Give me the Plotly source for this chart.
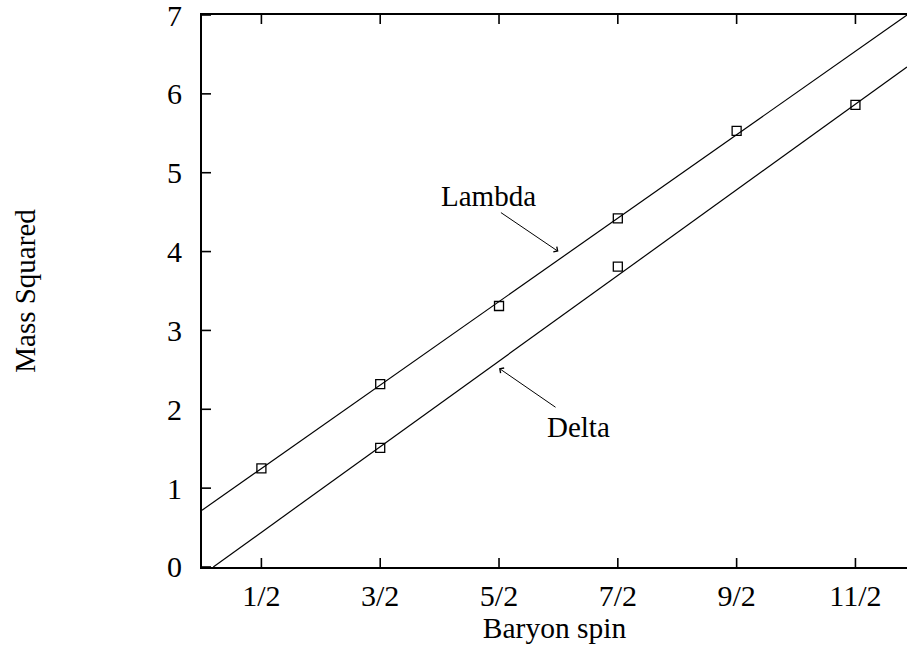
import plotly.graph_objects as go

# Data
spin_ticks = [0.5, 1.5, 2.5, 3.5, 4.5, 5.5]
spin_labels = ["1/2", "3/2", "5/2", "7/2", "9/2", "11/2"]
mass_ticks = [0, 1, 2, 3, 4, 5, 6, 7]

lambda_x = [0.5, 1.5, 2.5, 3.5, 4.5]
lambda_y = [1.25, 2.32, 3.31, 4.42, 5.53]
delta_x = [1.5, 3.5, 5.5]
delta_y = [1.51, 3.81, 5.86]

lambda_fit_x = [0.0, 5.934]
lambda_fit_y = [0.72, 7.0]
delta_fit_x = [0.095, 5.934]
delta_fit_y = [0.0, 6.34]

X_MIN, X_MAX = 0.0, 5.934
Y_MIN, Y_MAX = 0.0, 7.0

FONT = "Liberation Serif"
fig = go.Figure()

fig.add_trace(go.Scatter(x=lambda_fit_x, y=lambda_fit_y, mode="lines",
                         line=dict(color="black", width=1.2), showlegend=False))
fig.add_trace(go.Scatter(x=delta_fit_x, y=delta_fit_y, mode="lines",
                         line=dict(color="black", width=1.2), showlegend=False))
fig.add_trace(go.Scatter(x=lambda_x, y=lambda_y, mode="markers",
                         marker=dict(symbol="square-open", size=9, color="black",
                                     line=dict(width=1.3, color="black")),
                         showlegend=False))
fig.add_trace(go.Scatter(x=delta_x, y=delta_y, mode="markers",
                         marker=dict(symbol="square-open", size=9, color="black",
                                     line=dict(width=1.3, color="black")),
                         showlegend=False))

# Inward tick marks (bottom, top, left)
tick_line = dict(color="black", width=1.6)
for t in spin_ticks:
    fig.add_shape(type="line", xref="x", yref="y", x0=t, x1=t,
                  ysizemode="pixel", yanchor=Y_MIN, y0=0, y1=9, line=tick_line)
    fig.add_shape(type="line", xref="x", yref="y", x0=t, x1=t,
                  ysizemode="pixel", yanchor=Y_MAX, y0=0, y1=-9, line=tick_line)
for t in mass_ticks:
    fig.add_shape(type="line", xref="x", yref="y", y0=t, y1=t,
                  xsizemode="pixel", xanchor=X_MIN, x0=0, x1=9, line=tick_line)

# Annotations: arrows and labels
fig.add_annotation(x=3.0, y=4.0, ax=-59, ay=-40, text="", showarrow=True,
                   arrowhead=4, arrowsize=1.2, arrowwidth=1, arrowcolor="black")
fig.add_annotation(x=2.41, y=4.70, text="Lambda", showarrow=False,
                   font=dict(family=FONT, size=29, color="black"))
fig.add_annotation(x=2.50, y=2.52, ax=58, ay=40, text="", showarrow=True,
                   arrowhead=4, arrowsize=1.2, arrowwidth=1, arrowcolor="black")
fig.add_annotation(x=3.17, y=1.78, text="Delta", showarrow=False,
                   font=dict(family=FONT, size=29, color="black"))

fig.update_layout(
    width=907, height=645,
    margin=dict(l=201.5, r=0, t=15, b=78),
    paper_bgcolor="white", plot_bgcolor="white",
    font=dict(family=FONT, size=30, color="black"),
    xaxis=dict(range=[X_MIN, X_MAX], tickvals=spin_ticks, ticktext=spin_labels,
               showgrid=False, zeroline=False, showline=True, linecolor="black",
               linewidth=2, mirror=True, ticks="",
               ticklabelstandoff=1,
               tickfont=dict(family=FONT, size=30),
               title=dict(text="Baryon spin", standoff=0,
                          font=dict(family=FONT, size=29.5))),
    yaxis=dict(range=[Y_MIN - 0.0001, Y_MAX + 0.0001], tickvals=mass_ticks,
               showgrid=False, zeroline=False, showline=True, linecolor="black",
               linewidth=2, mirror=False, ticks="",
               ticklabelstandoff=12,
               ticklabeloverflow="allow",
               tickfont=dict(family=FONT, size=30),
               title=dict(text="Mass Squared", standoff=123,
                          font=dict(family=FONT, size=29))),
)

fig.write_html("out.html")
